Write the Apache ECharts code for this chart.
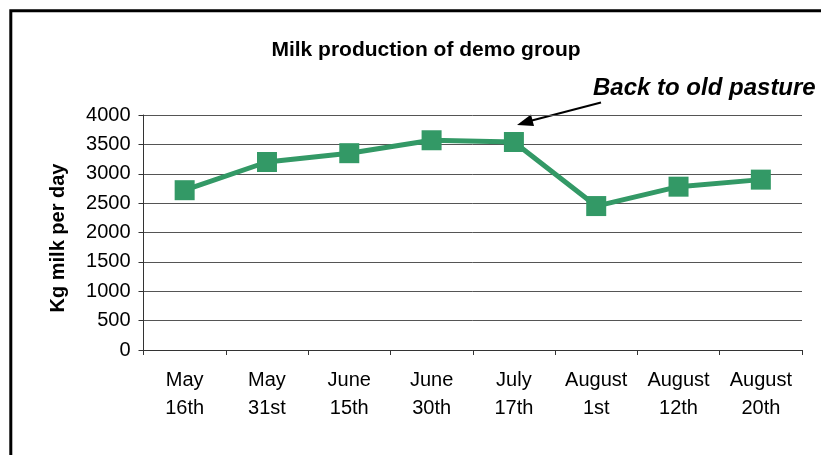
<!DOCTYPE html>
<html>
<head>
<meta charset="utf-8">
<style>
  html, body { margin: 0; padding: 0; background: #fff; }
  #chart { width: 821px; height: 455px; }
</style>
<script src="https://cdn.jsdelivr.net/npm/echarts@6/dist/echarts.min.js"></script>
</head>
<body>
<div id="chart"></div>
<script>
// Sampling dates (two-line category labels)
const dates = ['May\n16th', 'May\n31st', 'June\n15th', 'June\n30th', 'July\n17th', 'August\n1st', 'August\n12th', 'August\n20th'];
// Milk produced by the demo group, kg per day
const milkKg = [2720, 3200, 3350, 3570, 3540, 2450, 2780, 2900];
// Value axis ticks
const yTicks = [0, 500, 1000, 1500, 2000, 2500, 3000, 3500, 4000];

const FONT = '"Liberation Sans", Arial, Helvetica, sans-serif';
const GREEN = '#339966';

const chart = echarts.init(document.getElementById('chart'), null, { renderer: 'canvas' });

chart.setOption({
  animation: false,
  backgroundColor: '#ffffff',
  textStyle: { fontFamily: FONT },
  title: {
    text: 'Milk production of demo group',
    left: 421,
    top: 35,
    textAlign: 'center',
    textStyle: { fontFamily: FONT, fontSize: 21, fontWeight: 'bold', color: '#000' }
  },
  grid: { left: 143.5, top: 115, width: 658.5, height: 235, containLabel: false },
  xAxis: {
    type: 'category',
    data: dates,
    boundaryGap: true,
    axisLine: { show: true, lineStyle: { color: '#333', width: 1 } },
    axisTick: { show: true, length: 5, alignWithLabel: false, lineStyle: { color: '#333' } },
    axisLabel: {
      color: '#000', fontFamily: FONT, fontSize: 20, lineHeight: 28,
      margin: 16, interval: 0
    },
    splitLine: { show: false }
  },
  yAxis: {
    type: 'value',
    min: yTicks[0],
    max: yTicks[yTicks.length - 1],
    interval: yTicks[1] - yTicks[0],
    axisLine: { show: true, lineStyle: { color: '#333', width: 1 } },
    axisTick: { show: true, length: 5, inside: false, lineStyle: { color: '#333' } },
    axisLabel: {
      color: '#000', fontFamily: FONT, fontSize: 20, margin: 13,
      formatter: (v) => String(v)
    },
    splitLine: { show: true, lineStyle: { color: '#555', width: 1 } }
  },
  series: [{
    type: 'line',
    data: milkKg,
    symbol: 'rect',
    symbolSize: 20,
    lineStyle: { color: GREEN, width: 5 },
    itemStyle: { color: GREEN, borderWidth: 0 },
    emphasis: { disabled: true },
    z: 5
  }],
  graphic: [
    // outer frame of the chart sheet
    {
      type: 'rect', silent: true, z: 10,
      shape: { x: 10.8, y: 10.8, width: 1000, height: 700 },
      style: { fill: null, stroke: '#000', lineWidth: 3 }
    },
    // rotated value-axis title
    {
      type: 'text', silent: true,
      x: 58, y: 238, rotation: Math.PI / 2,
      style: {
        text: 'Kg milk per day', fill: '#000',
        font: 'bold 20px ' + FONT, align: 'center', verticalAlign: 'middle'
      }
    },
    // annotation text
    {
      type: 'text', silent: true,
      x: 593, y: 88,
      style: {
        text: 'Back to old pasture', fill: '#000',
        font: 'italic bold 24px ' + FONT, align: 'left', verticalAlign: 'middle'
      }
    },
    // annotation arrow shaft
    {
      type: 'line', silent: true,
      shape: { x1: 601, y1: 102.5, x2: 528, y2: 121.5 },
      style: { stroke: '#000', lineWidth: 2 }
    },
    // annotation arrow head
    {
      type: 'polygon', silent: true,
      shape: { points: [[517, 125], [531, 114.5], [534, 126]] },
      style: { fill: '#000' }
    }
  ]
});
</script>
</body>
</html>
